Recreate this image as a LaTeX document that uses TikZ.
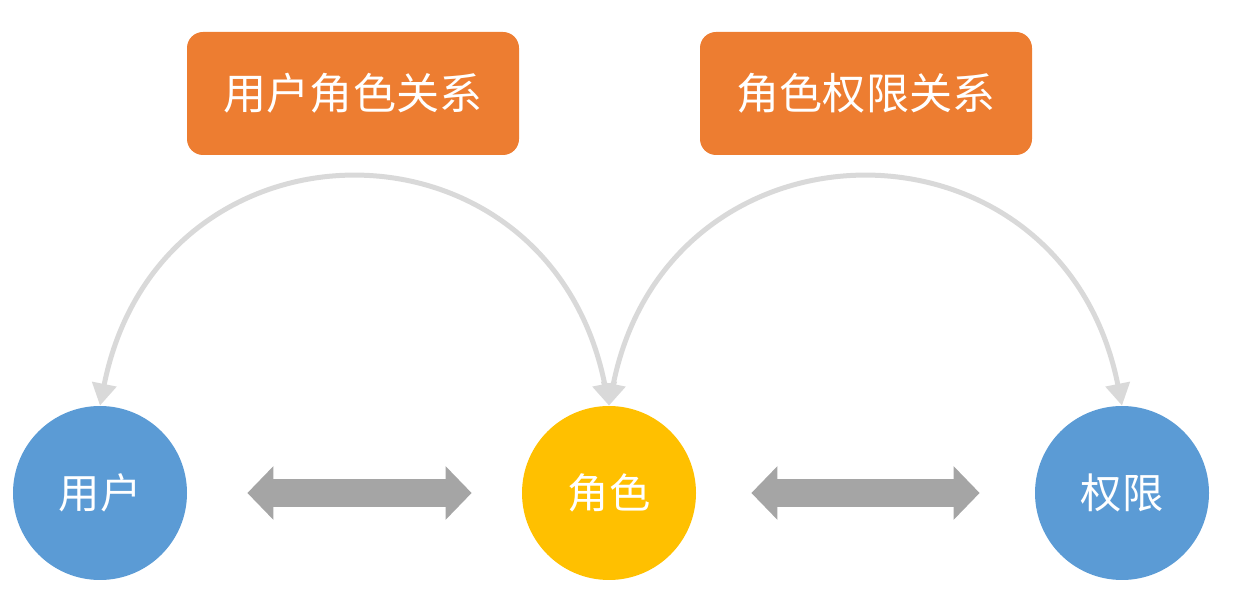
\documentclass[tikz,border=0pt]{standalone}
\usepackage{fontspec}
\newfontfamily\cjk{Noto Sans CJK SC}
\usepackage{tikz}
\usetikzlibrary{arrows.meta,positioning}
\definecolor{relorange}{HTML}{ED7D31}
\definecolor{nodeblue}{HTML}{5B9BD5}
\definecolor{nodegold}{HTML}{FFC000}
\definecolor{arcgray}{HTML}{D9D9D9}
\definecolor{bargray}{HTML}{A5A5A5}

\begin{document}
\begin{tikzpicture}[
	relbox/.style={fill=relorange, rounded corners=0.32cm, minimum width=6.64cm,
		minimum height=2.46cm, text=white, font=\cjk\fontsize{24.5}{29}\selectfont},
	ent/.style={circle, minimum size=3.48cm, inner sep=0pt, text=white,
		font=\cjk\fontsize{23.5}{28}\selectfont},
	arc/.style={{Triangle[length=0.44cm,width=0.48cm]}-{Triangle[length=0.44cm,width=0.48cm]},
		draw=arcgray, line width=0.1cm},
	bar/.style={{Triangle[length=0.52cm,width=1.04cm]}-{Triangle[length=0.52cm,width=1.04cm]},
		draw=bargray, line width=0.56cm}
]
	\useasboundingbox (0,0) rectangle (24.8,11.84);
	% entities
	\node[ent, fill=nodeblue] (user) at (2.0, 1.98) {用户};
	\node[ent, fill=nodegold] (role) at (12.18, 1.98) {角色};
	\node[ent, fill=nodeblue] (perm) at (22.44, 1.98) {权限};
	% relations
	\node[relbox] (ur) at (7.06, 9.97) {用户角色关系};
	\node[relbox] (rp) at (17.32, 9.97) {角色权限关系};
	\draw[arc] (user.north) .. controls (3.2, 9.74) and (10.98, 9.74) .. (role.north);
	\draw[arc] (role.north) .. controls (13.38, 9.74) and (21.24, 9.74) .. (perm.north);
	\draw[bar, shorten <=1.2cm, shorten >=1.0cm] (user.east) -- (role.west);
	\draw[bar, shorten <=1.1cm, shorten >=1.1cm] (role.east) -- (perm.west);
\end{tikzpicture}
\end{document}
